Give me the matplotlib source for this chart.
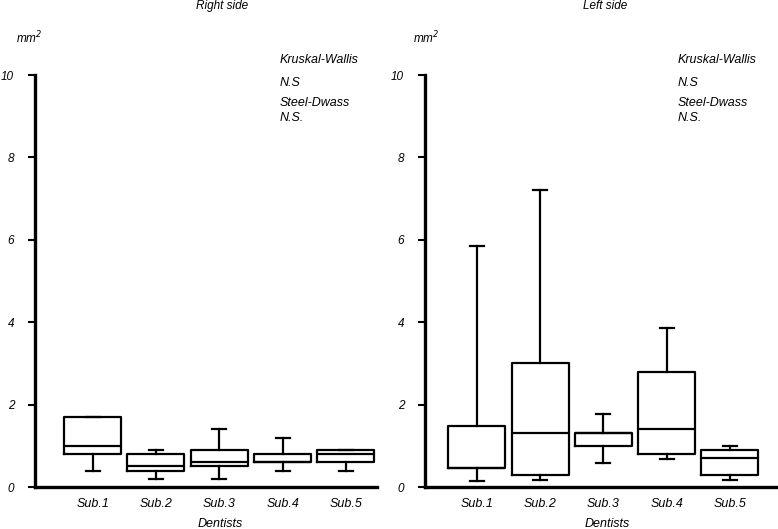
import matplotlib.pyplot as plt

plt.rcParams['font.family'] = ['Liberation Sans', 'DejaVu Sans']
plt.rcParams['font.style'] = 'italic'

subjects = ['Sub.1', 'Sub.2', 'Sub.3', 'Sub.4', 'Sub.5']

# right side: whisker low, q1, median, q3, whisker high (mm2)
right_lo = [0.4, 0.2, 0.2, 0.4, 0.4]
right_q1 = [0.8, 0.4, 0.5, 0.6, 0.6]
right_med = [1.0, 0.5, 0.6, 0.6, 0.8]
right_q3 = [1.7, 0.8, 0.9, 0.8, 0.9]
right_hi = [1.7, 0.9, 1.4, 1.2, 0.9]

# left side
left_lo = [0.15, 0.18, 0.58, 0.68, 0.18]
left_q1 = [0.45, 0.3, 1.0, 0.8, 0.3]
left_med = [0.45, 1.3, 1.3, 1.4, 0.7]
left_q3 = [1.47, 3.0, 1.3, 2.8, 0.9]
left_hi = [5.85, 7.2, 1.78, 3.87, 1.0]

W, H = 778, 529


def px(x, y):
    return x / W, 1 - y / H


def panel(rect, xlim, lo, q1, med, q3, hi, title, title_x, note_x, mm_x, dent_x):
    ax = fig.add_axes(rect)
    stats = []
    for i in range(len(subjects)):
        stats.append({'whislo': lo[i], 'q1': q1[i], 'med': med[i],
                      'q3': q3[i], 'whishi': hi[i], 'fliers': []})
    lw = 1.6
    ax.bxp(stats, positions=range(1, 6), widths=0.9, capwidths=0.22,
           showfliers=False,
           boxprops=dict(color='black', linewidth=lw),
           medianprops=dict(color='black', linewidth=lw),
           whiskerprops=dict(color='black', linewidth=lw),
           capprops=dict(color='black', linewidth=lw))
    ax.set_xlim(*xlim)
    ax.set_ylim(0, 10)
    ax.set_yticks([0, 2, 4, 6, 8, 10])
    ax.set_xticks(range(1, 6))
    ax.set_xticklabels(subjects)
    for s in ['top', 'right']:
        ax.spines[s].set_visible(False)
    for s in ['left', 'bottom']:
        ax.spines[s].set_linewidth(2.4)
    ax.tick_params(axis='y', length=5, width=1.5, pad=10, labelsize=8.5)
    ax.tick_params(axis='x', length=0, pad=8, labelsize=9)
    ax.patch.set_alpha(0)

    fig.text(*px(title_x, 6), title, ha='center', va='center', fontsize=8.5)
    fig.text(*px(mm_x, 38), 'mm$^{\\mathit{2}}$', ha='left', va='center',
             fontsize=8.5)
    fig.text(*px(dent_x, 524), 'Dentists', ha='center', va='center',
             fontsize=9)
    for y, t in zip([60, 83, 103, 118],
                    ['Kruskal-Wallis', 'N.S', 'Steel-Dwass', 'N.S.']):
        fig.text(*px(note_x, y), t, ha='left', va='center', fontsize=9)
    return ax


fig = plt.figure(figsize=(7.78, 5.29), dpi=100)

panel([35 / W, 42 / H, 342 / W, 412 / H], (0.09, 5.49),
      right_lo, right_q1, right_med, right_q3, right_hi,
      'Right side', 222, 280, 16, 220)
panel([425 / W, 42 / H, 351 / W, 412 / H], (0.18, 5.73),
      left_lo, left_q1, left_med, left_q3, left_hi,
      'Left side', 605, 678, 413, 607)

fig.savefig('out.png', dpi=100)
